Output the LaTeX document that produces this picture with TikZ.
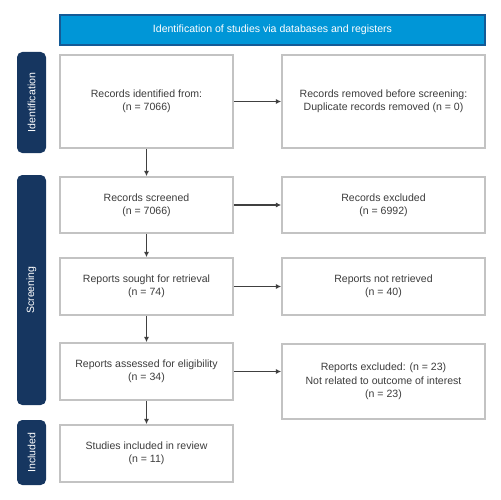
\documentclass[tikz,border=0pt]{standalone}
\usepackage{fontspec}
\setmainfont{Liberation Sans}
\usetikzlibrary{positioning,arrows.meta}
\definecolor{bannerblue}{RGB}{0,150,215}
\definecolor{bannerdark}{RGB}{20,90,150}
\definecolor{sidenavy}{RGB}{22,54,96}
\definecolor{boxgray}{RGB}{195,195,195}
\definecolor{textgray}{RGB}{60,60,60}

\begin{document}
\begin{tikzpicture}[
  x=0.02cm, y=-0.02cm,
  stage/.style={rectangle, draw=boxgray, line width=1pt, fill=white,
                align=center, inner sep=2pt, text=textgray,
                font=\fontsize{6}{7.5}\selectfont},
  side/.style={rectangle, fill=sidenavy, rounded corners=3pt, text=white,
               minimum height=29*0.02cm, rotate=90, font=\fontsize{6}{7}\selectfont},
  banner/.style={rectangle, fill=bannerblue, draw=bannerdark, line width=0.8pt,
                 minimum width=425*0.02cm, minimum height=30*0.02cm,
                 text=white, font=\fontsize{6}{7}\selectfont},
  arr/.style={-{Latex[length=3pt,width=3pt]}, line width=0.8pt, draw=black!75}
]
\useasboundingbox (0,0) rectangle (500,500);
% header and phase bars
\node[banner] (head) at (272.5,30) {Identification of studies via databases and registers};
\node[side, minimum width=101*0.02cm] (ident) at (31.5,102.5) {Identification};
\node[side, minimum width=230*0.02cm] (screen) at (31.5,290) {Screening};
\node[side, minimum width=65*0.02cm] (incl) at (31.5,452.5) {Included};
% left column
\node[stage, minimum width=173*0.02cm, minimum height=93*0.02cm] (s1) at (146.5,101.5) {Records identified from:\\(n = 7066)};
\node[stage, minimum width=173*0.02cm, minimum height=56*0.02cm] (s2) at (146.5,205) {Records screened\\(n = 7066)};
\node[stage, minimum width=173*0.02cm, minimum height=57*0.02cm] (s3) at (146.5,286.5) {Reports sought for retrieval\\(n = 74)};
\node[stage, minimum width=173*0.02cm, minimum height=57*0.02cm] (s4) at (146.5,371.5) {Reports assessed for eligibility\\(n = 34)};
\node[stage, minimum width=173*0.02cm, minimum height=57*0.02cm] (s5) at (146.5,453.5) {Studies included in review\\(n = 11)};
% right column
\node[stage, minimum width=203*0.02cm, minimum height=93*0.02cm] (r1) at (383.5,101.5) {Records removed before screening:\\Duplicate records removed (n = 0)};
\node[stage, minimum width=203*0.02cm, minimum height=56*0.02cm] (r2) at (383.5,205) {Records excluded\\(n = 6992)};
\node[stage, minimum width=203*0.02cm, minimum height=57*0.02cm] (r3) at (383.5,286.5) {Reports not retrieved\\(n = 40)};
\node[stage, minimum width=203*0.02cm, minimum height=75*0.02cm, anchor=north] (r4) at (383.5,343) {Reports excluded: (n = 23)\\Not related to outcome of interest\\(n = 23)};
\draw[arr] (s1) -- (s2);
\draw[arr] (s2) -- (s3);
\draw[arr] (s3) -- (s4);
\draw[arr] (s4) -- (s5);
\draw[arr] (s1) -- (r1);
\draw[arr] (s2) -- (r2);
\draw[arr] (s3) -- (r3);
\draw[arr] (s4.east) -- (s4.east -| r4.west);
\end{tikzpicture}
\end{document}
